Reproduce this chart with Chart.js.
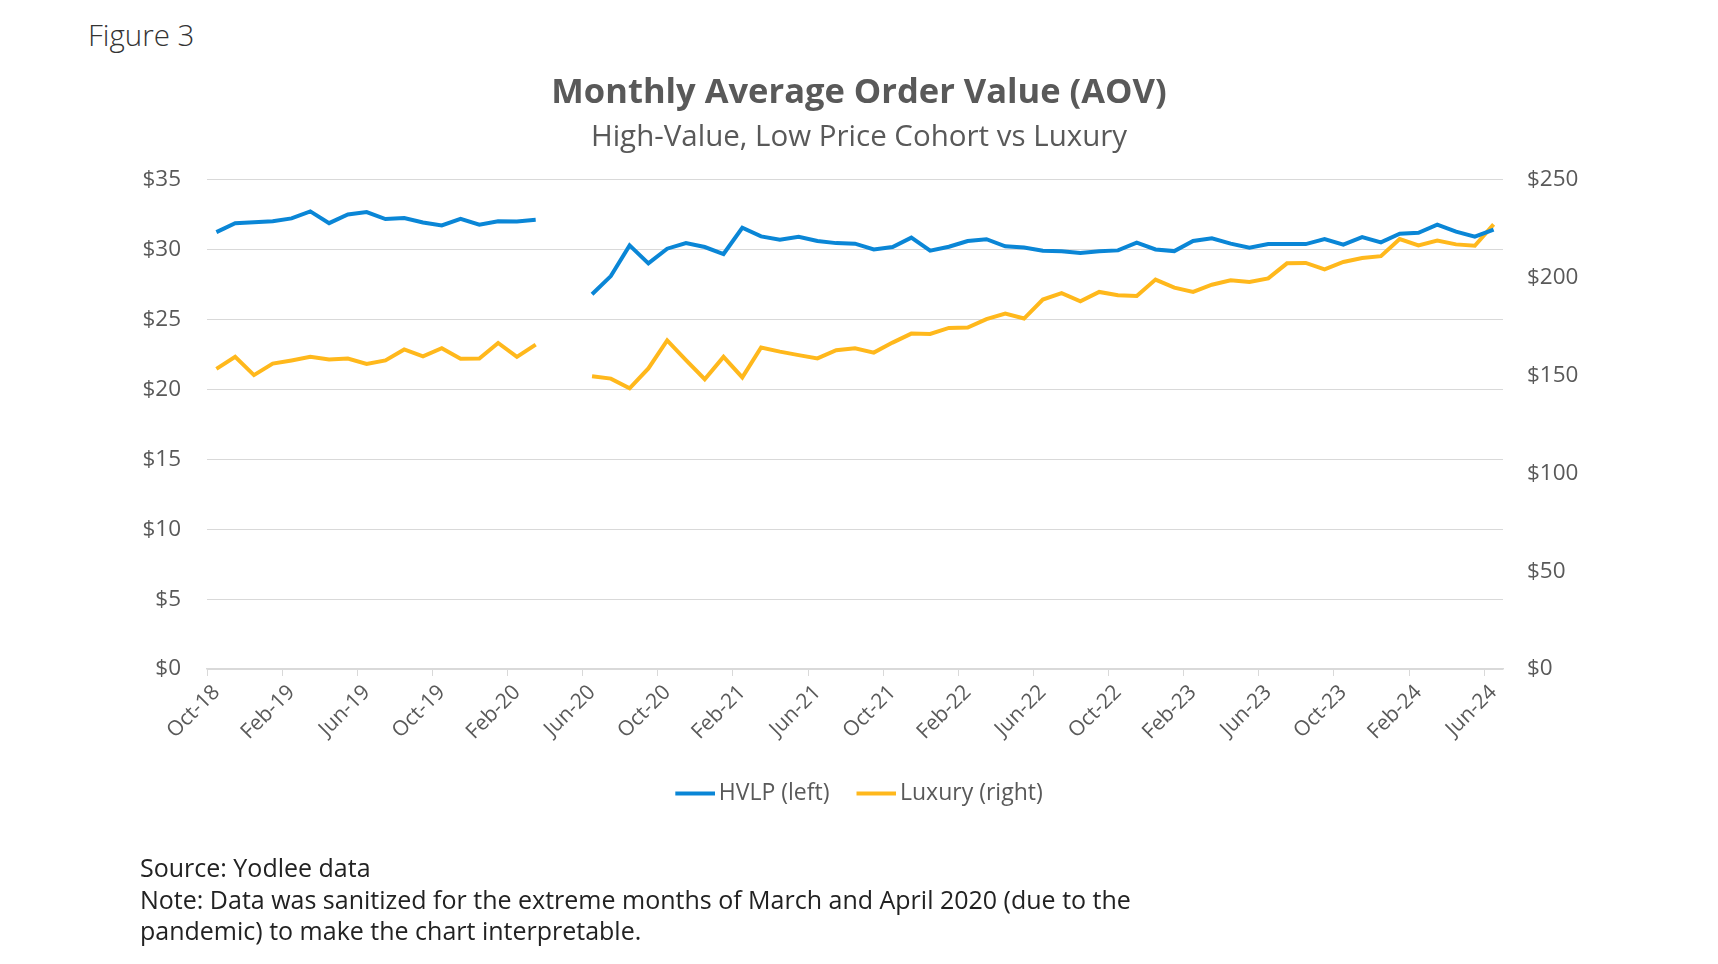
<!DOCTYPE html>
<html>
<head>
<meta charset="utf-8">
<script src="https://cdn.jsdelivr.net/npm/chart.js@4/dist/chart.umd.min.js"></script>
<style>
  html, body { margin: 0; padding: 0; background: #fff; }
  body { width: 1718px; height: 964px; position: relative; overflow: hidden; font-family: "Open Sans", sans-serif; }
  #wrap { position: absolute; left: 0; top: 0; width: 1718px; height: 964px; }
  .fig { position: absolute; left: 88px; top: 15px; font-size: 29.5px; line-height: 40px; font-weight: 300; color: #333; }
  .notes { position: absolute; left: 140px; top: 852px; font-size: 25px; line-height: 31.5px; color: #222; }
</style>
</head>
<body>
<div class="fig">Figure 3</div>
<div id="wrap"><canvas id="aovChart"></canvas></div>
<div class="notes">
  Source: Yodlee data<br>
  Note: Data was sanitized for the extreme months of March and April 2020 (due to the<br>
  pandemic) to make the chart interpretable.
</div>
<script>
const months = [
  "Oct-18", "Nov-18", "Dec-18",
  "Jan-19", "Feb-19", "Mar-19", "Apr-19", "May-19", "Jun-19", "Jul-19", "Aug-19", "Sep-19", "Oct-19", "Nov-19", "Dec-19",
  "Jan-20", "Feb-20", "Mar-20", "Apr-20", "May-20", "Jun-20", "Jul-20", "Aug-20", "Sep-20", "Oct-20", "Nov-20", "Dec-20",
  "Jan-21", "Feb-21", "Mar-21", "Apr-21", "May-21", "Jun-21", "Jul-21", "Aug-21", "Sep-21", "Oct-21", "Nov-21", "Dec-21",
  "Jan-22", "Feb-22", "Mar-22", "Apr-22", "May-22", "Jun-22", "Jul-22", "Aug-22", "Sep-22", "Oct-22", "Nov-22", "Dec-22",
  "Jan-23", "Feb-23", "Mar-23", "Apr-23", "May-23", "Jun-23", "Jul-23", "Aug-23", "Sep-23", "Oct-23", "Nov-23", "Dec-23",
  "Jan-24", "Feb-24", "Mar-24", "Apr-24", "May-24", "Jun-24"
];

// HVLP, left axis ($)
const hvlp = [
  31.26, 31.90, 31.97, 32.04, 32.24, 32.74, 31.90, 32.52, 32.69, 32.19, 32.26, 31.95, 31.74, 32.21, 31.79,
  32.04, 32.02, 32.14, null, null, 26.81, 28.11, 30.31, 29.02, 30.07, 30.47, 30.19,
  29.69, 31.57, 30.95, 30.71, 30.93, 30.62, 30.47, 30.43, 30.02, 30.19, 30.86, 29.93,
  30.21, 30.62, 30.75, 30.24, 30.16, 29.93, 29.88, 29.76, 29.88, 29.95, 30.50, 30.02,
  29.90, 30.62, 30.81, 30.43, 30.14, 30.40, 30.40, 30.40, 30.76, 30.36, 30.90, 30.52,
  31.14, 31.21, 31.79, 31.29, 30.93, 31.43
];

// Luxury, right axis ($)
const luxury = [
  153.4, 159.5, 150.2, 156.1, 157.7, 159.5, 158.2, 158.7, 155.9, 157.7, 163.3, 159.8, 163.9, 158.5, 158.7,
  166.6, 159.5, 165.8, null, null, 149.6, 148.4, 143.4, 153.6, 167.9, 157.8, 148.1,
  159.5, 149.0, 164.3, 162.2, 160.4, 158.7, 162.9, 163.9, 161.7, 166.8, 171.4, 171.2,
  174.3, 174.5, 178.8, 181.6, 179.1, 188.8, 192.1, 187.9, 192.7, 191.0, 190.6, 199.0,
  194.9, 192.7, 196.4, 198.6, 197.8, 199.6, 207.3, 207.5, 204.2, 208.0, 210.0, 211.0,
  219.7, 216.5, 218.9, 217.0, 216.3, 227.2
];

const leftTicks = { min: 0, max: 35, step: 5 };
const rightTicks = { min: 0, max: 250, step: 50 };
const labelEvery = 4;

const grey = "#595959";
const gridGrey = "#d9d9d9";
const blue = "#0a86d6";
const gold = "#ffb81c";
const font = "'Open Sans', sans-serif";

// legend swatch: a 40px line, shifted so the label sits close to it
function swatch(color) {
  const c = document.createElement("canvas");
  c.width = 48;
  c.height = 6;
  const g = c.getContext("2d");
  g.fillStyle = color;
  g.fillRect(8, 1, 40, 4);
  return c;
}

new Chart(document.getElementById("aovChart"), {
  type: "line",
  data: {
    labels: months,
    datasets: [
      {
        label: "HVLP (left)",
        data: hvlp,
        yAxisID: "y",
        borderColor: blue,
        backgroundColor: blue,
        borderWidth: 4,
        pointRadius: 0,
        pointStyle: swatch(blue),
        spanGaps: false,
        tension: 0
      },
      {
        label: "Luxury (right)",
        data: luxury,
        yAxisID: "y1",
        borderColor: gold,
        backgroundColor: gold,
        borderWidth: 4,
        pointRadius: 0,
        pointStyle: swatch(gold),
        spanGaps: false,
        tension: 0
      }
    ]
  },
  options: {
    responsive: true,
    maintainAspectRatio: false,
    animation: false,
    layout: { padding: { top: 0, left: 0, right: 0, bottom: 149 } },
    plugins: {
      title: {
        display: true,
        text: "Monthly Average Order Value (AOV)",
        color: grey,
        font: { family: font, size: 34.5, weight: "bold" },
        padding: { top: 72, bottom: 6 }
      },
      subtitle: {
        display: true,
        text: "High-Value, Low Price Cohort vs Luxury",
        color: grey,
        font: { family: font, size: 29.5, weight: "normal" },
        padding: { top: 0, bottom: 25 }
      },
      legend: {
        position: "bottom",
        labels: {
          usePointStyle: true,
          pointStyleWidth: 32,
          color: grey,
          font: { family: font, size: 23 },
          padding: 27
        }
      },
      tooltip: { enabled: false }
    },
    scales: {
      x: {
        type: "category",
        offset: true,
        grid: {
          offset: true,
          drawOnChartArea: false,
          drawTicks: true,
          tickLength: 7,
          color: ctx => (ctx.index % labelEvery === 0 ? gridGrey : "rgba(0,0,0,0)"),
          tickColor: ctx => (ctx.index % labelEvery === 0 ? gridGrey : "rgba(0,0,0,0)")
        },
        border: { display: true, color: gridGrey, width: 1.5 },
        ticks: {
          autoSkip: false,
          minRotation: 45,
          maxRotation: 45,
          padding: 4,
          color: grey,
          font: { family: font, size: 21 },
          callback: function (value, index) {
            return index % labelEvery === 0 ? this.getLabelForValue(value) : "";
          }
        },
        afterFit: scale => { scale.height = 86; }
      },
      y: {
        position: "left",
        min: leftTicks.min,
        max: leftTicks.max,
        grid: { color: gridGrey, lineWidth: 1, drawTicks: false },
        border: { display: false },
        ticks: {
          stepSize: leftTicks.step,
          padding: 26,
          color: grey,
          font: { family: font, size: 22.5 },
          callback: v => "$" + v
        },
        afterFit: scale => { scale.width = 207; }
      },
      y1: {
        position: "right",
        min: rightTicks.min,
        max: rightTicks.max,
        grid: { drawOnChartArea: false, drawTicks: false },
        border: { display: false },
        ticks: {
          stepSize: rightTicks.step,
          padding: 24,
          color: grey,
          font: { family: font, size: 22.5 },
          callback: v => "$" + v
        },
        afterFit: scale => { scale.width = 215; }
      }
    }
  }
});
</script>
</body>
</html>
